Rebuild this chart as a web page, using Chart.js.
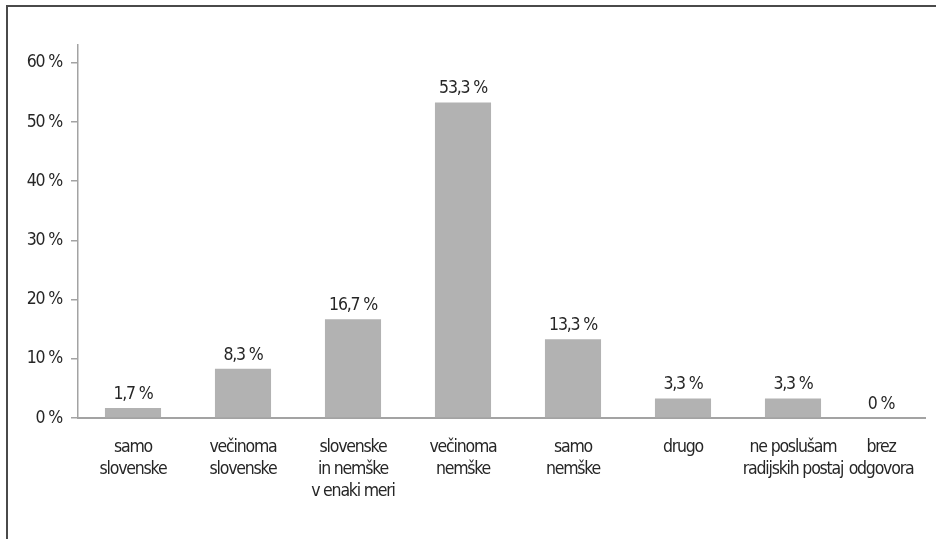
<!DOCTYPE html>
<html>
<head>
<meta charset="utf-8">
<script src="https://cdn.jsdelivr.net/npm/chart.js@4.4.1/dist/chart.umd.min.js"></script>
<style>
  html, body { margin: 0; padding: 0; background: #fff; overflow: hidden; }
  body { width: 936px; height: 539px; position: relative; }
  .frame {
    position: absolute; left: 6px; top: 5px; width: 1000px; height: 600px;
    border-left: 2px solid #4a4a4a; border-top: 2px solid #4a4a4a;
  }
  /* plot runs past the visible strip; clip it where the axis ends */
  .wrap { position: absolute; left: 0; top: 0; width: 926px; height: 539px; overflow: hidden; }
  .wrap .inner { width: 970px; height: 539px; }
</style>
</head>
<body>
<div class="frame"></div>
<div class="wrap"><div class="inner"><canvas id="chart"></canvas></div></div>
<script>
  // answers: which radio stations (by language) people listen to
  const categories = [
    ['samo', 'slovenske'],
    ['večinoma', 'slovenske'],
    ['slovenske', 'in nemške', 'v enaki meri'],
    ['večinoma', 'nemške'],
    ['samo', 'nemške'],
    ['drugo'],
    ['ne poslušam', 'radijskih postaj'],
    ['brez', 'odgovora']
  ];
  const shares = [1.7, 8.3, 16.7, 53.3, 13.3, 3.3, 3.3, 0];
  const yTicks = [0, 10, 20, 30, 40, 50, 60];

  const FONT = '"Liberation Sans Narrow", "DejaVu Sans Condensed", "Roboto Condensed", "Noto Sans", sans-serif';
  const FONT_SIZE = 17.5;
  const TRACKING = '-1.2px';  // squeeze the text a bit, it is a condensed face
  const TEXT = '#262626';
  const AXIS = '#a3a3a3';
  const LAST_SHIFT = 22;      // last column sits at the clipped edge, pull its texts inward

  const pct = v => (v === 0 ? '0' : v.toFixed(1).replace('.', ',')) + ' %';

  const condensed = {
    id: 'condensed',
    beforeDraw(chart) {
      chart.ctx.letterSpacing = TRACKING;
      const items = chart.scales.x.getLabelItems(chart.chartArea);
      const last = items[items.length - 1];
      if (last && !last._shifted) {
        last.options.translation[0] -= LAST_SHIFT;
        last._shifted = true;
      }
    }
  };

  // value labels above each bar
  const valueLabels = {
    id: 'valueLabels',
    afterDatasetsDraw(chart) {
      const ctx = chart.ctx;
      const meta = chart.getDatasetMeta(0);
      ctx.save();
      ctx.letterSpacing = TRACKING;
      ctx.font = FONT_SIZE + 'px ' + FONT;
      ctx.fillStyle = TEXT;
      ctx.textAlign = 'center';
      ctx.textBaseline = 'alphabetic';
      meta.data.forEach((bar, i) => {
        const x = i === shares.length - 1 ? bar.x - LAST_SHIFT : bar.x;
        ctx.fillText(pct(shares[i]), x, bar.y - 9);
      });
      ctx.restore();
    }
  };

  new Chart(document.getElementById('chart').getContext('2d'), {
    type: 'bar',
    data: {
      labels: categories,
      datasets: [{
        data: shares,
        backgroundColor: '#b2b2b2',
        borderWidth: 0,
        categoryPercentage: 1,
        barPercentage: 0.51
      }]
    },
    options: {
      responsive: true, maintainAspectRatio: false, animation: false,
      layout: { padding: { top: 45, right: 12, bottom: 0, left: 0 } },
      plugins: { legend: { display: false }, tooltip: { enabled: false } },
      scales: {
        x: {
          grid: { display: false, drawTicks: false },
          border: { color: AXIS, width: 2 },
          ticks: {
            color: TEXT, padding: 19, maxRotation: 0, autoSkip: false,
            font: { family: FONT, size: FONT_SIZE, lineHeight: 1.25 }
          },
          afterFit: s => { s.height = 121; }
        },
        y: {
          min: 0, max: 63,
          grid: { drawOnChartArea: false, tickLength: 7, color: AXIS, lineWidth: 1.5 },
          border: { color: AXIS, width: 1.5 },
          ticks: {
            color: TEXT, padding: 9, includeBounds: false,
            font: { family: FONT, size: FONT_SIZE },
            callback: v => v + ' %'
          },
          afterBuildTicks: s => { s.ticks = yTicks.map(v => ({ value: v })); },
          afterFit: s => { s.width = 78; }
        }
      }
    },
    plugins: [condensed, valueLabels]
  });
</script>
</body>
</html>
